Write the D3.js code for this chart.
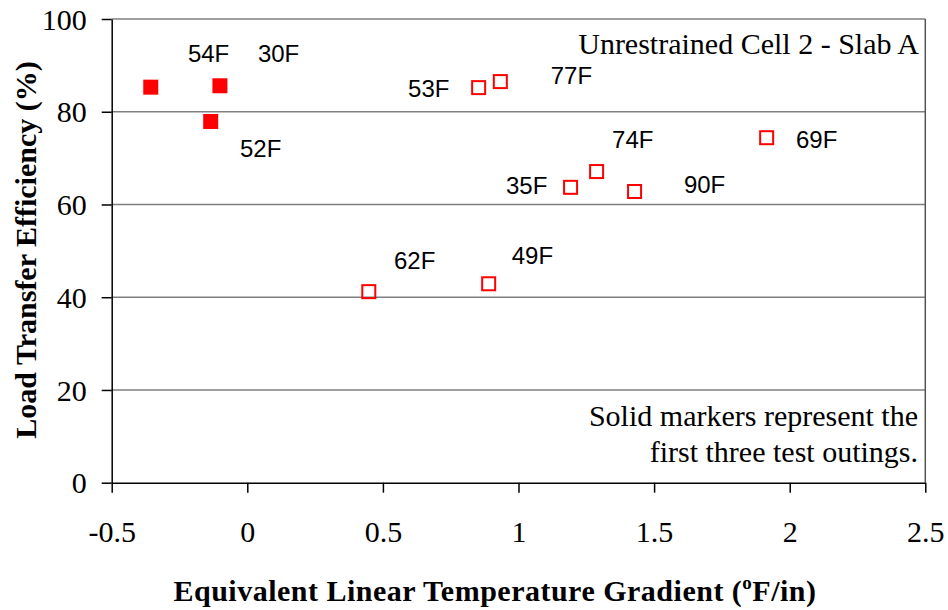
<!DOCTYPE html>
<html>
<head>
<meta charset="utf-8">
<script src="https://cdn.jsdelivr.net/npm/d3@7"></script>
<style>
  html, body { margin: 0; padding: 0; background: #fff; }
  svg { display: block; }
</style>
</head>
<body>
<svg id="chart" width="948" height="610"></svg>
<script>
// Test outings: temperature during test, gradient and LTE
const outingLabels = ["54F", "52F", "30F", "62F", "53F", "49F", "77F", "35F", "74F", "90F", "69F"];
const gradients    = [-0.356, -0.135, -0.101, 0.448, 0.853, 0.890, 0.933, 1.192, 1.288, 1.428, 1.915];
const efficiency   = [85.3, 77.9, 85.6, 41.2, 85.2, 42.9, 86.5, 63.7, 67.1, 62.8, 74.4];
const isEarly      = [true, true, true, false, false, false, false, false, false, false, false];
// Where each outing's temperature tag sits, in axis units (left edge, baseline)
const tagGradient  = [-0.219, -0.027, 0.039, 0.541, 0.593, 0.975, 1.119, 0.954, 1.345, 1.610, 2.023];
const tagEfficiency= [90.7, 70.2, 90.7, 46.0, 83.1, 47.1, 85.9, 62.2, 72.2, 62.4, 72.2];

const xTicks = [-0.5, 0, 0.5, 1, 1.5, 2, 2.5];
const yTicks = [0, 20, 40, 60, 80, 100];

const svg = d3.select("#chart");
const plot = { left: 111.7, right: 925.3, top: 19, bottom: 482.7 };

const x = d3.scaleLinear().domain([-0.5, 2.5]).range([plot.left, plot.right]);
const y = d3.scaleLinear().domain([0, 100]).range([plot.bottom, plot.top]);

const serif = "'Liberation Serif', 'Times New Roman', serif";
const sans = "'Liberation Sans', Arial, sans-serif";

// Horizontal gridlines
svg.append("g")
  .selectAll("line")
  .data(yTicks.filter(d => d > 0))
  .join("line")
  .attr("x1", plot.left).attr("x2", plot.right)
  .attr("y1", d => y(d)).attr("y2", d => y(d))
  .attr("stroke", "#7f7f7f").attr("stroke-width", 1.5);

// Right plot border
svg.append("line")
  .attr("x1", plot.right).attr("x2", plot.right)
  .attr("y1", plot.top).attr("y2", plot.bottom)
  .attr("stroke", "#555").attr("stroke-width", 1.5);

// Y axis
const yAxis = svg.append("g")
  .attr("transform", `translate(${plot.left},0)`)
  .call(d3.axisLeft(y).tickValues(yTicks).tickSize(10).tickSizeOuter(0).tickFormat(d => String(d)));
yAxis.select(".domain").attr("stroke", "#000").attr("stroke-width", 1.5);
yAxis.selectAll(".tick line").attr("stroke", "#000").attr("stroke-width", 1.5);
yAxis.selectAll(".tick text")
  .attr("font-family", serif).attr("font-size", 30).attr("fill", "#000")
  .attr("x", -25).attr("dy", "0.34em");

// X axis
const xAxis = svg.append("g")
  .attr("transform", `translate(0,${plot.bottom})`)
  .call(d3.axisBottom(x).tickValues(xTicks).tickSize(10).tickSizeOuter(0).tickFormat(d => String(d)));
xAxis.select(".domain").attr("stroke", "#000").attr("stroke-width", 1.5);
xAxis.selectAll(".tick line").attr("stroke", "#000").attr("stroke-width", 1.5);
xAxis.selectAll(".tick text")
  .attr("font-family", serif).attr("font-size", 30).attr("fill", "#000")
  .attr("y", 0).attr("dy", 0)
  .attr("transform", "translate(0,59)");

// Markers
const pts = outingLabels.map((lab, i) => ({
  lab, gx: gradients[i], e: efficiency[i], early: isEarly[i],
  tx: tagGradient[i], ty: tagEfficiency[i]
}));

svg.append("g").selectAll("rect.filled")
  .data(pts.filter(d => d.early))
  .join("rect")
  .attr("x", d => x(d.gx) - 7.5).attr("y", d => y(d.e) - 7.5)
  .attr("width", 15).attr("height", 15)
  .attr("fill", "#ff0000");

svg.append("g").selectAll("rect.open")
  .data(pts.filter(d => !d.early))
  .join("rect")
  .attr("x", d => x(d.gx) - 6.5).attr("y", d => y(d.e) - 6.5)
  .attr("width", 13).attr("height", 13)
  .attr("fill", "none").attr("stroke", "#ff0000").attr("stroke-width", 2);

// Temperature tags
svg.append("g").selectAll("text")
  .data(pts)
  .join("text")
  .attr("x", d => x(d.tx)).attr("y", d => y(d.ty))
  .attr("font-family", sans).attr("font-size", 24).attr("fill", "#000")
  .text(d => d.lab);

// Chart title and note
svg.append("text")
  .attr("x", 919).attr("y", 54)
  .attr("text-anchor", "end")
  .attr("font-family", serif).attr("font-size", 30).attr("fill", "#000")
  .text("Unrestrained Cell 2 - Slab A");

const note = svg.append("text")
  .attr("text-anchor", "end")
  .attr("font-family", serif).attr("font-size", 30).attr("fill", "#000");
note.append("tspan").attr("x", 918).attr("y", 426).text("Solid markers represent the");
note.append("tspan").attr("x", 918).attr("y", 462).text("first three test outings.");

// Axis titles
const xTitle = svg.append("text")
  .attr("x", 495).attr("y", 601)
  .attr("text-anchor", "middle")
  .attr("font-family", serif).attr("font-size", 30).attr("font-weight", "bold").attr("fill", "#000")
  .attr("letter-spacing", 0.5);
xTitle.append("tspan").text("Equivalent Linear Temperature Gradient (");
xTitle.append("tspan").attr("font-size", 19).attr("dy", -12).text("o");
xTitle.append("tspan").attr("dy", 12).text("F/in)");

svg.append("text")
  .attr("transform", "translate(36,250) rotate(-90)")
  .attr("text-anchor", "middle")
  .attr("font-family", serif).attr("font-size", 30).attr("font-weight", "bold").attr("fill", "#000")
  .text("Load Transfer Efficiency (%)");
</script>
</body>
</html>
